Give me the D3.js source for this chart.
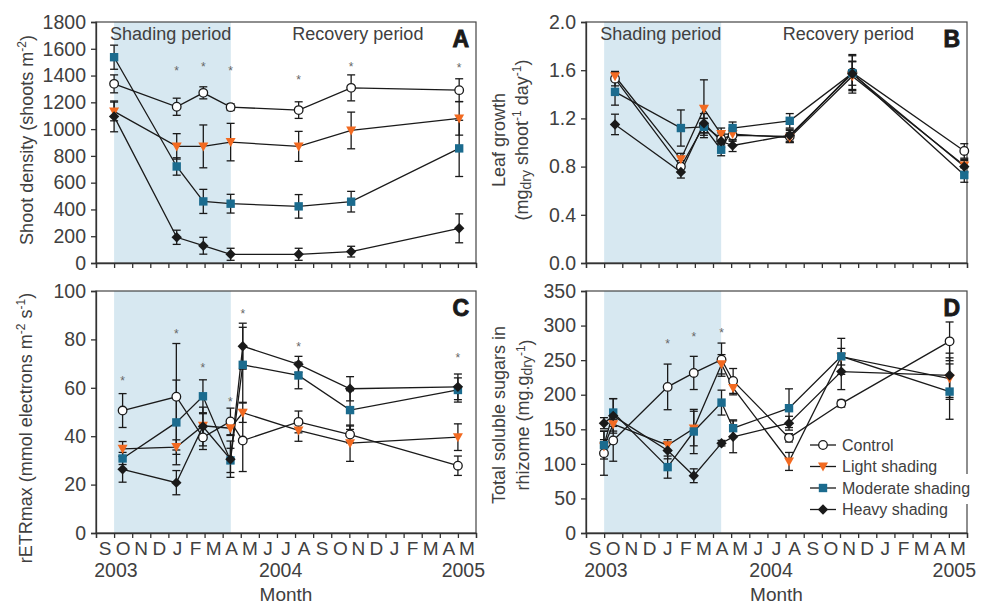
<!DOCTYPE html>
<html>
<head>
<meta charset="utf-8">
<script src="https://cdn.jsdelivr.net/npm/d3@7"></script>
<style>
  body { margin: 0; background: #fff; }
  svg { display: block; font-family: "Liberation Sans", Arial, sans-serif; }
</style>
</head>
<body>
<svg id="chart" width="981" height="605"></svg>
<script>
// ---- data ----
const monthLabels = ["S","O","N","D","J","F","M","A","M","J","J","A","S","O","N","D","J","F","M","A","M"];
const yearLabels = ["2003", "2004", "2005"];
const yearMonths = [1.1, 10.2, 20.3];
const seriesNames = ["Control", "Light shading", "Moderate shading", "Heavy shading"];
const shadeStart = 1.0, shadeEnd = 7.45; // months since Sep 2003

// A: shoot density
const timesA = [1.0, 4.46, 5.93, 7.44, 11.2, 14.1, 20.07];
const densControl = [1338, 1167, 1271, 1164, 1142, 1308, 1291];
const densControlErr = [67, 64, 45, 25, 62, 97, 85];
const densLight = [1132, 871, 871, 903, 871, 990, 1080];
const densLightErr = [70, 95, 160, 140, 112, 137, 125];
const densModerate = [1537, 721, 460, 443, 423, 458, 856];
const densModerateErr = [90, 65, 90, 70, 88, 77, 210];
const densHeavy = [1095, 192, 129, 65, 65, 85, 259];
const densHeavyErr = [115, 53, 63, 45, 45, 40, 108];
const densStars = [null, 1455, 1485, 1455, 1388, 1480, 1473];

// B: leaf growth
const timesB = [1.6, 5.23, 6.5, 7.45, 8.08, 11.23, 14.68, 20.85];
const growControl = [1.53, 0.80, 1.14, 1.03, 1.06, 1.05, 1.58, 0.93];
const growControlErr = [0.06, 0.05, 0.06, 0.05, 0.05, 0.05, 0.14, 0.06];
const growLight = [1.55, 0.86, 1.28, 1.07, 1.07, 1.04, 1.55, 0.81];
const growLightErr = [0.03, 0.05, 0.24, 0.05, 0.05, 0.04, 0.12, 0.05];
const growModerate = [1.42, 1.12, 1.13, 0.94, 1.12, 1.18, 1.575, 0.73];
const growModerateErr = [0.11, 0.15, 0.07, 0.05, 0.05, 0.06, 0.10, 0.06];
const growHeavy = [1.15, 0.755, 1.16, 1.01, 0.975, 1.06, 1.57, 0.80];
const growHeavyErr = [0.085, 0.05, 0.08, 0.05, 0.05, 0.05, 0.16, 0.05];
const growStars = [null, null, null, null, null, null, null, null];

// C: rETRmax
const timesC = [1.47, 4.44, 5.91, 7.43, 8.11, 11.19, 14.04, 20.0];
const etrControl = [50.6, 56.3, 39.5, 46.1, 38.2, 45.9, 40.7, 27.8];
const etrControlErr = [7, 22, 5, 5.5, 12.8, 4.5, 3.5, 4];
const etrLight = [34.8, 35.5, 44.3, 43.3, 49.7, 42.4, 37.1, 39.6];
const etrLightErr = [3, 3, 5, 3, 4, 4.5, 7.5, 5.5];
const etrModerate = [30.8, 45.7, 56.5, 30.0, 69.5, 65.1, 50.8, 59.1];
const etrModerateErr = [2.5, 17.5, 6.8, 5, 15.5, 5.5, 8, 5];
const etrHeavy = [26.3, 20.8, 44.0, 30.5, 77.2, 69.7, 59.6, 60.4];
const etrHeavyErr = [5.3, 5, 8, 7.5, 9.5, 3.3, 5, 5.3];
const etrStars = [63.7, 83.2, 69.2, 55.3, 91.7, 78, null, 73.3];

// D: total soluble sugars
const timesD = [0.99, 1.5, 4.5, 5.94, 7.47, 8.11, 11.19, 14.07, 20.04];
const sugControl = [115.5, 133.8, 211.3, 231.5, 250.7, 219.9, 137.6, 187.2, 277.2];
const sugControlErr = [32, 30, 33, 24, 24, 18, 6, 5, 28];
const sugLight = [125, 157.4, 127, 151.1, 244, 209.8, 103.5, 255, 223.3];
const sugLightErr = [10, 10, 8, 25, 14, 10, 13, 12, 30];
const sugModerate = [127, 174.2, 95.3, 146.8, 188.6, 151.6, 180.5, 255.5, 204.5];
const sugModerateErr = [20, 20, 16, 32, 18, 12, 28, 26, 40];
const sugHeavy = [158.8, 169.4, 119.3, 82.8, 129.9, 139.1, 158.8, 233.4, 228.1];
const sugHeavyErr = [8, 25, 12, 10, 4, 23, 10, 26, 32];
const sugStars = [null, null, 277.7, 287.3, 293.5, null, null, null, null];

// ---- drawing ----
const svg = d3.select("#chart");
const textColor = "#404040";
const markerStyles = [
  {type: "circle", fill: "#fff", stroke: "#1a1a1a"},
  {type: "triangle", fill: "#f26a21", stroke: "none"},
  {type: "square", fill: "#1b6b8e", stroke: "none"},
  {type: "diamond", fill: "#1a1a1a", stroke: "none"}
];

function drawMarker(sel, style) {
  if (style.type === "circle") {
    sel.append("circle").attr("r", 4.3)
      .attr("fill", style.fill).attr("stroke", style.stroke).attr("stroke-width", 1.3);
  } else {
    const paths = {
      triangle: "M-5,-4L5,-4L0,5Z",
      square: "M-4.2,-4.2H4.2V4.2H-4.2Z",
      diamond: "M0,-5.2L5.2,0L0,5.2L-5.2,0Z"
    };
    sel.append("path").attr("d", paths[style.type]).attr("fill", style.fill);
  }
}

function drawPanel(cfg) {
  const g = svg.append("g");
  const x = d3.scaleLinear().domain([0, 21]).range([cfg.left, cfg.right]);
  const y = d3.scaleLinear().domain(cfg.yDomain).range([cfg.bottom, cfg.top]);

  // shading period
  g.append("rect")
    .attr("x", x(shadeStart)).attr("y", cfg.top)
    .attr("width", x(shadeEnd) - x(shadeStart))
    .attr("height", cfg.bottom - cfg.top)
    .attr("fill", "#d7e8f1");

  // frame
  g.append("rect")
    .attr("x", cfg.left).attr("y", cfg.top)
    .attr("width", cfg.right - cfg.left).attr("height", cfg.bottom - cfg.top)
    .attr("fill", "none").attr("stroke", "#444").attr("stroke-width", 1.2);

  // y axis
  const yAxis = g.append("g")
    .attr("transform", `translate(${cfg.left},0)`)
    .call(d3.axisLeft(y).tickValues(cfg.yTicks).tickSize(5).tickPadding(5).tickFormat(d3.format(cfg.yFormat)));
  yAxis.selectAll("path, line").attr("stroke", "#333").attr("stroke-width", 1.3);
  yAxis.selectAll("text").attr("font-size", "19.5px").attr("fill", textColor)
    .attr("font-family", "'Liberation Sans', Arial, sans-serif");

  // x axis (month ticks)
  const xAxis = g.append("g")
    .attr("transform", `translate(0,${cfg.bottom})`)
    .call(d3.axisBottom(x).tickValues(d3.range(0, 22)).tickSize(5).tickFormat(""));
  xAxis.selectAll("path, line").attr("stroke", "#333").attr("stroke-width", 1.3);

  if (cfg.showMonths) {
    g.selectAll(".month").data(monthLabels).join("text")
      .attr("x", (d, i) => x(i + 0.5)).attr("y", cfg.bottom + 21.5)
      .attr("text-anchor", "middle").attr("font-size", "19px").attr("fill", textColor)
      .text(d => d);
    g.selectAll(".year").data(yearLabels).join("text")
      .attr("x", (d, i) => x(yearMonths[i])).attr("y", cfg.bottom + 44)
      .attr("text-anchor", "middle").attr("font-size", "19.5px").attr("fill", textColor)
      .text(d => d);
    g.append("text")
      .attr("x", (cfg.left + cfg.right) / 2).attr("y", cfg.bottom + 68)
      .attr("text-anchor", "middle").attr("font-size", "19px").attr("fill", textColor)
      .text("Month");
  }

  if (cfg.periodLabels) {
    g.append("text").attr("x", x(shadeStart) - 4).attr("y", cfg.top + 18)
      .attr("font-size", "18px").attr("fill", textColor).text("Shading period");
    g.append("text").attr("x", x(10.85)).attr("y", cfg.top + 18)
      .attr("font-size", "18px").attr("fill", textColor).text("Recovery period");
  }

  // panel letter
  g.append("text").attr("x", cfg.right - 7).attr("y", cfg.top + 25)
    .attr("text-anchor", "end").attr("font-size", "23px").attr("font-weight", "bold")
    .attr("fill", "#1a1a1a").attr("stroke", "#1a1a1a").attr("stroke-width", 0.9)
    .text(cfg.letter);

  // y title (one or two lines)
  cfg.yTitle.forEach(line => {
    const t = g.append("text")
      .attr("transform", `translate(${line.x},${cfg.titleY}) rotate(-90)`)
      .attr("text-anchor", "middle").attr("font-size", "18px").attr("fill", textColor);
    line.parts.forEach(p => {
      const ts = t.append("tspan").text(p.t);
      if (p.sup) ts.attr("font-size", "12px").attr("dy", -7);
      if (p.sub) ts.attr("font-size", "14px").attr("dy", 3);
      if (p.after) ts.attr("dy", p.after);
    });
  });

  const times = cfg.times;
  const line = d3.line().x((d, i) => x(times[i])).y(d => y(d));

  // connecting lines
  cfg.series.forEach(s => {
    g.append("path").datum(s.values).attr("d", line)
      .attr("fill", "none").attr("stroke", "#1a1a1a").attr("stroke-width", 1.3);
  });

  // error bars
  cfg.series.forEach(s => {
    const eb = g.append("g").attr("stroke", "#1a1a1a").attr("stroke-width", 1.3);
    s.values.forEach((v, i) => {
      const cx = x(times[i]), y0 = y(v - s.errors[i]), y1 = y(v + s.errors[i]);
      eb.append("line").attr("x1", cx).attr("x2", cx).attr("y1", y0).attr("y2", y1);
      eb.append("line").attr("x1", cx - 4).attr("x2", cx + 4).attr("y1", y0).attr("y2", y0);
      eb.append("line").attr("x1", cx - 4).attr("x2", cx + 4).attr("y1", y1).attr("y2", y1);
    });
  });

  // markers
  cfg.series.forEach((s, si) => {
    s.values.forEach((v, i) => {
      const m = g.append("g").attr("transform", `translate(${x(times[i])},${y(v)})`);
      drawMarker(m, markerStyles[si]);
    });
  });

  // significance asterisks
  cfg.stars.forEach((v, i) => {
    if (v == null) return;
    g.append("text").attr("x", x(times[i])).attr("y", y(v)).attr("dy", "0.55em")
      .attr("text-anchor", "middle").attr("font-size", "12px").attr("fill", "#666").text("*");
  });

  return {x, y, g};
}

drawPanel({
  letter: "A", left: 96, right: 476, top: 22, bottom: 263,
  yDomain: [0, 1800], yTicks: d3.range(0, 1801, 200), yFormat: "d",
  times: timesA, stars: densStars, periodLabels: true, showMonths: false, titleY: 140,
  yTitle: [{x: 32.5, parts: [{t: "Shoot density (shoots m"}, {t: "-2", sup: true}, {t: ")", after: 7}]}],
  series: [
    {values: densControl, errors: densControlErr},
    {values: densLight, errors: densLightErr},
    {values: densModerate, errors: densModerateErr},
    {values: densHeavy, errors: densHeavyErr}
  ]
});

drawPanel({
  letter: "B", left: 586, right: 967, top: 22, bottom: 263,
  yDomain: [0, 2], yTicks: d3.range(0, 2.01, 0.4), yFormat: ".1f",
  times: timesB, stars: growStars, periodLabels: true, showMonths: false, titleY: 140,
  yTitle: [
    {x: 505, parts: [{t: "Leaf growth"}]},
    {x: 528, parts: [{t: "(mg"}, {t: "dry", sub: true}, {t: " shoot", after: -3}, {t: "-1", sup: true},
      {t: " day", after: 7}, {t: "-1", sup: true}, {t: ")", after: 7}]}
  ],
  series: [
    {values: growControl, errors: growControlErr},
    {values: growLight, errors: growLightErr},
    {values: growModerate, errors: growModerateErr},
    {values: growHeavy, errors: growHeavyErr}
  ]
});

drawPanel({
  letter: "C", left: 96, right: 476, top: 291, bottom: 533,
  yDomain: [0, 100], yTicks: d3.range(0, 101, 20), yFormat: "d",
  times: timesC, stars: etrStars, periodLabels: false, showMonths: true, titleY: 428,
  yTitle: [{x: 32, parts: [{t: "rETRmax (mmol electrons m"}, {t: "-2", sup: true}, {t: " s", after: 7},
    {t: "-1", sup: true}, {t: ")", after: 7}]}],
  series: [
    {values: etrControl, errors: etrControlErr},
    {values: etrLight, errors: etrLightErr},
    {values: etrModerate, errors: etrModerateErr},
    {values: etrHeavy, errors: etrHeavyErr}
  ]
});

drawPanel({
  letter: "D", left: 586, right: 967, top: 291, bottom: 533,
  yDomain: [0, 350], yTicks: d3.range(0, 351, 50), yFormat: "d",
  times: timesD, stars: sugStars, periodLabels: false, showMonths: true, titleY: 415,
  yTitle: [
    {x: 505, parts: [{t: "Total soluble sugars in"}]},
    {x: 529, parts: [{t: "rhizome (mg.g"}, {t: "dry", sub: true}, {t: "-1", sup: true}, {t: ")", after: 7}]}
  ],
  series: [
    {values: sugControl, errors: sugControlErr},
    {values: sugLight, errors: sugLightErr},
    {values: sugModerate, errors: sugModerateErr},
    {values: sugHeavy, errors: sugHeavyErr}
  ]
});

// legend inside panel D
const legend = svg.append("g").attr("transform", "translate(810,445)");
// white box behind the long label hides the frame, as in the original
legend.append("rect").attr("x", 140).attr("y", 2 * 21.5 - 14).attr("width", 35).attr("height", 30).attr("fill", "#fff");
const rows = legend.selectAll("g.row").data(seriesNames).join("g")
  .attr("class", "row")
  .attr("transform", (d, i) => `translate(0,${i * 21.5})`);
rows.append("line").attr("x1", 0).attr("x2", 26).attr("stroke", "#1a1a1a").attr("stroke-width", 1.3);
rows.each(function(d, i) {
  const m = d3.select(this).append("g").attr("transform", "translate(13,0)");
  drawMarker(m, markerStyles[i]);
});
rows.append("text").attr("x", 32).attr("dy", "0.35em")
  .attr("font-size", "16px").attr("fill", textColor).text(d => d);
</script>
</body>
</html>
